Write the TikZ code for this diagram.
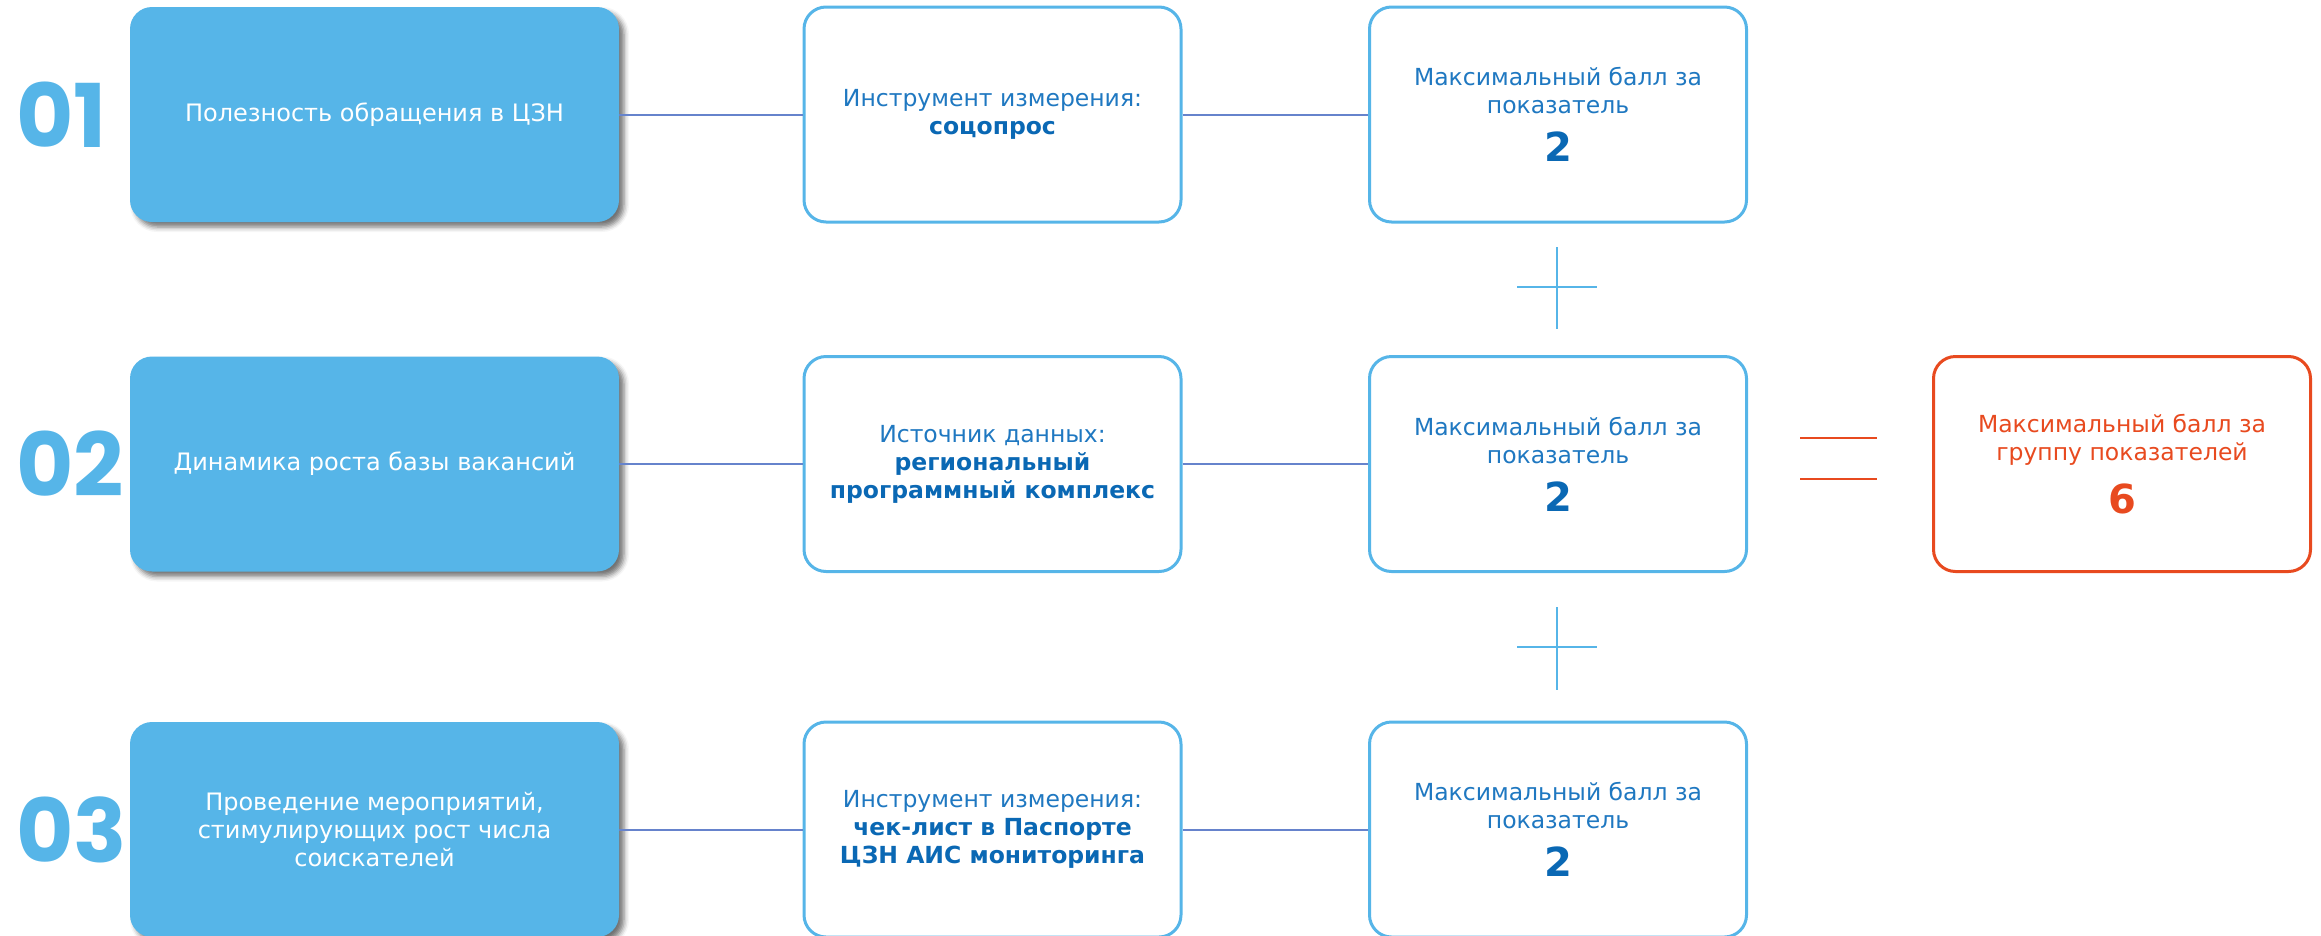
\documentclass[tikz,border=0pt]{standalone}
\usepackage{fontspec}
\setmainfont{DejaVu Sans}
\newfontfamily\numfont{Poppins}
\usetikzlibrary{shadows.blur}
\definecolor{cblue}{HTML}{56B5E8}
\definecolor{tblue}{HTML}{1F78C1}
\definecolor{dblue}{HTML}{0A68B4}
\definecolor{lineblue}{HTML}{6683CC}
\definecolor{corange}{HTML}{E84A1F}
\begin{document}
\begin{tikzpicture}[x=1pt,y=-1pt,
  bluebox/.style={rectangle, rounded corners=22pt, fill=cblue, minimum width=489pt, minimum height=215pt,
    text=white, align=center, font=\fontsize{24}{28}\selectfont,
    blur shadow={shadow xshift=5pt, shadow yshift=-5pt, shadow blur radius=5pt, shadow opacity=55}},
  whitebox/.style={rectangle, rounded corners=22pt, draw=cblue, line width=3pt, fill=white,
    minimum width=377pt, minimum height=215pt, text=tblue, align=center, font=\fontsize{23.5}{28}\selectfont},
  redbox/.style={whitebox, draw=corange, text=corange},
  numlbl/.style={anchor=west, inner sep=0pt, text=cblue, font=\numfont\bfseries\fontsize{88}{88}\selectfont},
  conn/.style={draw=lineblue, line width=2pt},
  plusline/.style={draw=cblue, line width=2pt},
  eqline/.style={draw=corange, line width=2pt}
]
\useasboundingbox (0,0) rectangle (2321,935);
\newcommand{\bignum}[1]{{\fontsize{40}{40}\selectfont\bfseries #1}}
\newcommand{\bld}[1]{{\color{dblue}\bfseries #1}}

% row 1
\node[numlbl] (n1) at (16,114.5) {01};
\node[bluebox] (a1) at (374.5,114.5) {Полезность обращения в ЦЗН};
\node[whitebox] (b1) at (992.5,114.5) {Инструмент измерения:\\\bld{соцопрос}};
\node[whitebox] (c1) at (1558,114.5) {Максимальный балл за\\показатель\\[17pt]\bld{\bignum{2}}};

% row 2
\node[numlbl] (n2) at (16,464) {02};
\node[bluebox] (a2) at (374.5,464) {Динамика роста базы вакансий};
\node[whitebox] (b2) at (992.5,464) {Источник данных:\\\bld{региональный}\\\bld{программный комплекс}};
\node[whitebox] (c2) at (1558,464) {Максимальный балл за\\показатель\\[17pt]\bld{\bignum{2}}};
\node[redbox] (r) at (2122,464) {Максимальный балл за\\группу показателей\\[17pt]\bignum{6}};

% row 3
\node[numlbl] (n3) at (16,829.5) {03};
\node[bluebox] (a3) at (374.5,829.5) {Проведение мероприятий,\\стимулирующих рост числа\\соискателей};
\node[whitebox] (b3) at (992.5,829.5) {Инструмент измерения:\\\bld{чек-лист в Паспорте}\\\bld{ЦЗН АИС мониторинга}};
\node[whitebox] (c3) at (1558,829.5) {Максимальный балл за\\показатель\\[17pt]\bld{\bignum{2}}};

% connectors
\draw[conn] (a1.east) -- (b1.west);
\draw[conn] (b1.east) -- (c1.west);
\draw[conn] (a2.east) -- (b2.west);
\draw[conn] (b2.east) -- (c2.west);
\draw[conn] (a3.east) -- (b3.west);
\draw[conn] (b3.east) -- (c3.west);

% plus signs
\draw[plusline] (1557,247) -- (1557,329) (1517,287) -- (1597,287);
\draw[plusline] (1557,607) -- (1557,690) (1517,647) -- (1597,647);

% equals sign
\draw[eqline] (1800,438) -- (1877,438) (1800,479) -- (1877,479);
\end{tikzpicture}
\end{document}
